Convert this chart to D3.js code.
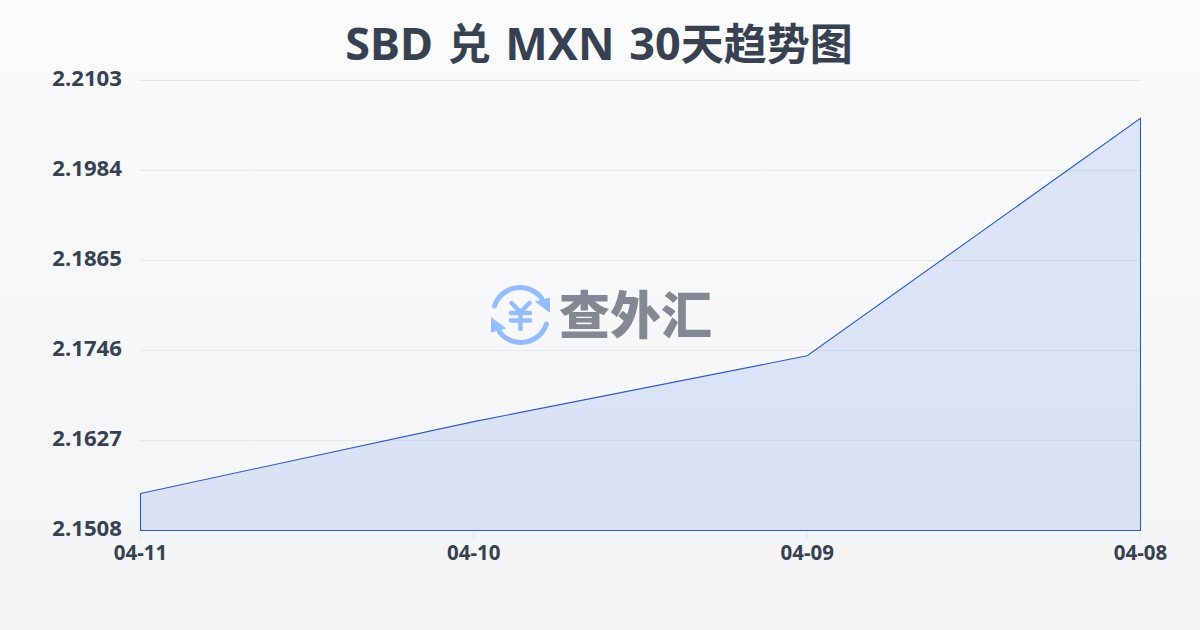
<!DOCTYPE html>
<html>
<head>
<meta charset="utf-8">
<script src="https://cdn.jsdelivr.net/npm/d3@7"></script>
<style>
html, body { margin: 0; padding: 0; background: #f3f5f8; }
svg { display: block; }
text { font-family: "Noto Sans", "Noto Sans CJK SC", sans-serif; font-weight: 700; fill: #374151; }
</style>
</head>
<body>
<div id="chart"></div>
<script>
const title = 'SBD 兑 MXN 30天趋势图';
const dates = ['04-11', '04-10', '04-09', '04-08'];
const rates = [2.1557, 2.1652, 2.1739, 2.2053];
const yTicks = [2.1508, 2.1627, 2.1746, 2.1865, 2.1984, 2.2103];

const width = 1200, height = 630;
const margin = {top: 80, right: 60, bottom: 100, left: 140};

const svg = d3.select('#chart').append('svg')
    .attr('width', width)
    .attr('height', height);

// background
const defs = svg.append('defs');
const bg = defs.append('linearGradient').attr('id', 'bg')
    .attr('x1', 0).attr('y1', 0).attr('x2', 0).attr('y2', 1);
bg.append('stop').attr('offset', '0%').attr('stop-color', '#f9fbfd');
bg.append('stop').attr('offset', '100%').attr('stop-color', '#f3f4f6');

svg.append('rect').attr('width', width).attr('height', height).attr('fill', 'url(#bg)');

const xScale = d3.scalePoint().domain(dates).range([margin.left, width - margin.right]);
const yScale = d3.scaleLinear().domain([yTicks[0], yTicks[yTicks.length - 1]])
    .range([height - margin.bottom, margin.top]);

// grid lines and y labels
const yAxis = g => g
    .attr('transform', `translate(${margin.left},0)`)
    .call(d3.axisLeft(yScale)
        .tickValues(yTicks)
        .tickFormat(d3.format('.4f'))
        .tickSizeInner(-(width - margin.left - margin.right))
        .tickSizeOuter(0)
        .tickPadding(18))
    .call(g => g.select('.domain').remove())
    .call(g => g.selectAll('line').attr('stroke', '#e5e7eb').attr('stroke-width', 1))
    .call(g => g.selectAll('text').attr('font-size', 22.2).attr('dy', '0.25em'));

svg.append('g').call(yAxis);

// x ticks go under the area
const xAxis = g => g
    .attr('transform', `translate(0,${height - margin.bottom})`)
    .call(d3.axisBottom(xScale).tickSize(10).tickPadding(5))
    .call(g => g.select('.domain').remove())
    .call(g => g.selectAll('line').attr('stroke', '#e5e7eb'))
    .call(g => g.selectAll('text').attr('font-size', 20.5));

svg.append('g').call(xAxis);

// area and line
const area = d3.area()
    .x((d, i) => xScale(dates[i]))
    .y0(yScale(yTicks[0]))
    .y1(d => yScale(d));

svg.append('path')
    .datum(rates)
    .attr('transform', 'translate(0.5,0.5)')
    .attr('d', area)
    .attr('fill', '#2563eb')
    .attr('fill-opacity', 0.13)
    .attr('stroke', '#2a5cc4')
    .attr('stroke-width', 1.1);

// latin and CJK parts have different sizes in the title
svg.append('text')
    .attr('x', width / 2 - 1)
    .attr('y', 60)
    .attr('text-anchor', 'middle')
    .style('word-spacing', '3px')
    .selectAll('tspan')
    .data(title.match(/[\u4e00-\u9fff]+|[^\u4e00-\u9fff]+/g))
    .join('tspan')
    .attr('font-size', d => /[\u4e00-\u9fff]/.test(d) ? 43 : 45)
    .text(d => d);

// watermark logo
const logo = svg.append('g').attr('opacity', 0.6);
const icon = logo.append('g').attr('transform', 'translate(520.5,315)')
    .attr('fill', 'none').attr('stroke', '#5396ff').attr('stroke-width', 5).attr('stroke-linecap', 'round');
icon.append('path').attr('d', 'M-26,-9 A27,27 0 0 1 21,-17');
icon.append('path').attr('d', 'M26,9 A27,27 0 0 1 -21,17');
icon.append('path').attr('d', 'M15.5,-13.3 L29,-17 L29,-3.3 Z').attr('fill', '#5396ff').attr('stroke', '#5396ff').attr('stroke-width', 1);
icon.append('path').attr('d', 'M-15.5,13.3 L-29,17 L-29,3.3 Z').attr('fill', '#5396ff').attr('stroke', '#5396ff').attr('stroke-width', 1);
icon.append('path').attr('d', 'M-9,-12 L0,-3 L9,-12 M-9.5,-2 H9.5 M-9.5,5.6 H9.5 M0,-3 V14').attr('stroke-width', 4.5);

logo.append('text')
    .attr('x', 559)
    .attr('y', 334)
    .attr('font-size', 51)
    .style('font-family', '"Noto Sans CJK SC"')
    .style('font-weight', 900)
    .style('fill', '#374151')
    .text('查外汇');
</script>
</body>
</html>
